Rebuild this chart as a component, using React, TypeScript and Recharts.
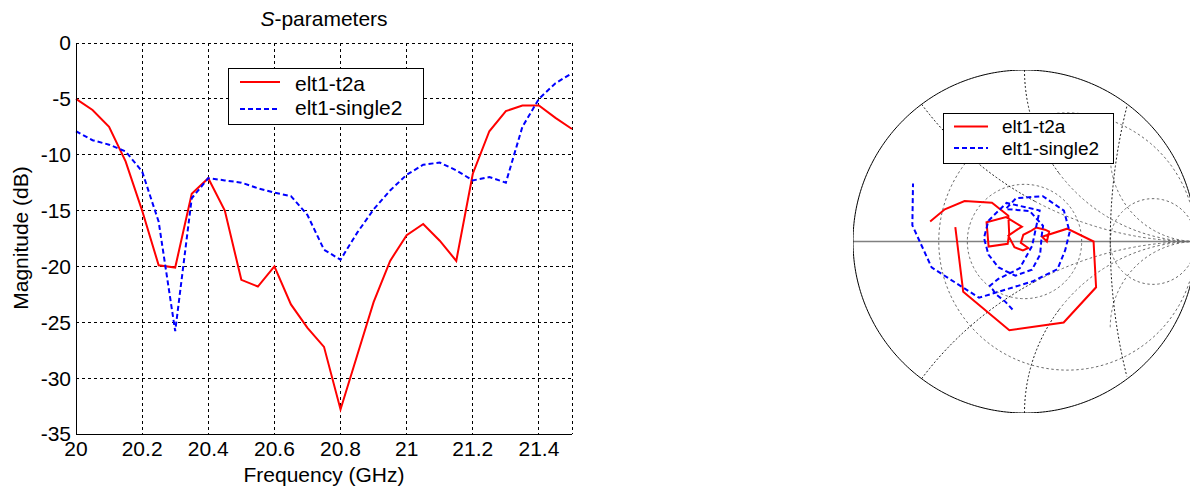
import React from 'react';
import {
  LineChart,
  Line,
  XAxis,
  YAxis,
  CartesianGrid,
  Label,
  Customized,
  ScatterChart,
  Scatter,
  ReferenceLine,
} from 'recharts';

// Sweep points (GHz)
const freqGHz = [
  20.0, 20.05, 20.1, 20.15, 20.2, 20.25, 20.3, 20.35, 20.4, 20.45, 20.5,
  20.55, 20.6, 20.65, 20.7, 20.75, 20.8, 20.85, 20.9, 20.95, 21.0,
  21.05, 21.1, 21.15, 21.2, 21.25, 21.3, 21.35, 21.4, 21.45, 21.5,
];

// |S11| in dB
const t2aDb = [
  -5.0, -6.0, -7.5, -10.6, -15.0, -19.9, -20.1, -13.5, -12.1, -15.0, -21.2,
  -21.8, -20.0, -23.4, -25.5, -27.2, -32.8, -28.0, -23.2, -19.5, -17.2,
  -16.2, -17.7, -19.5, -11.7, -7.9, -6.1, -5.6, -5.6, -6.7, -7.7,
];
const single2Db = [
  -7.9, -8.7, -9.1, -9.7, -11.5, -16.0, -25.8, -13.9, -12.1, -12.3, -12.5,
  -13.0, -13.4, -13.7, -15.4, -18.5, -19.4, -17.0, -14.9, -13.2, -11.8,
  -10.9, -10.7, -11.4, -12.3, -12.0, -12.5, -7.5, -5.0, -3.6, -2.7,
];

// S11 phase in degrees
const t2aPhase = [
  168, 158, 146, 130, 122, 152, 188, 188, 153, 127, 100,
  120, 160, 210, 260, 300, 200, 100, 60, 50, 30,
  22, 0, 15, 16.7, 0, -32.6, -64.2, -99.7, -140.6, 168.2,
];
const single2Phase = [
  -100, -108, -118, -128, -125, -100, -30, 64, 115, 150, 175,
  200, 225, 255, 285, 320, 20, 40, 80, 120, 101,
  68, 38, 12, -12, -40, -78, -129, -164.4, 171.8, 152.5,
];

const freqTicks = [20, 20.2, 20.4, 20.6, 20.8, 21, 21.2, 21.4];
const dbTicks = [0, -5, -10, -15, -20, -25, -30, -35];

const seriesNames = ['elt1-t2a', 'elt1-single2'];

const FONT = '"Liberation Sans", Arial, Helvetica, sans-serif';
const RED = '#ff0000';
const BLUE = '#0000ff';
const DASH = '5 3';

const rows = freqGHz.map((f, i) => ({ f, t2a: t2aDb[i], single2: single2Db[i] }));

// polar (dB, deg) -> reflection coefficient
const toGamma = (db: number[], deg: number[]) =>
  db.map((d, i) => {
    const m = Math.pow(10, d / 20);
    const a = (deg[i] * Math.PI) / 180;
    return { x: m * Math.cos(a), y: m * Math.sin(a) };
  });

const t2aGamma = toGamma(t2aDb, t2aPhase);
const single2Gamma = toGamma(single2Db, single2Phase);

// ---- Smith grid helpers ----
const zToGamma = (r: number, x: number) => {
  const den = (r + 1) * (r + 1) + x * x;
  return { x: (r * r - 1 + x * x) / den, y: (2 * x) / den };
};

const reactanceArc = (x: number, r0: number, r1: number) => {
  const t0 = Math.atan(r0);
  const t1 = Math.min(Math.atan(r1), Math.PI / 2 - 0.001);
  const pts = [];
  for (let i = 0; i <= 80; i++) {
    const r = Math.tan(t0 + ((t1 - t0) * i) / 80);
    pts.push(zToGamma(r, x));
  }
  return pts;
};

const resistanceCircle = (r: number) => {
  const pts = [];
  for (let i = 0; i <= 160; i++) {
    const t = -Math.PI / 2 + 0.002 + ((Math.PI - 0.004) * i) / 160;
    pts.push(zToGamma(r, Math.tan(t)));
  }
  return pts;
};

const circle = (cx: number, cy: number, R: number, n = 240) => {
  const pts = [];
  for (let i = 0; i <= n; i++) {
    const a = (2 * Math.PI * i) / n;
    const p = { x: cx + R * Math.cos(a), y: cy + R * Math.sin(a) };
    if (p.x * p.x + p.y * p.y <= 1.0001) pts.push(p);
  }
  return pts;
};

// arc near Re=0.5, only the part inside the chart, ordered by angle around its centre
const sideArc = () => {
  const pts = [];
  for (let i = 0; i <= 100; i++) {
    const a = Math.PI - 0.26 + (0.52 * i) / 100;
    const p = { x: 3.75 + 3.25 * Math.cos(a), y: 3.25 * Math.sin(a) };
    if (p.x * p.x + p.y * p.y <= 1.0001) pts.push(p);
  }
  return pts;
};

const outerReactances = [0.5, 1, -0.5, -1];
const innerReactances = [0.5, 1, 2, -0.5, -1, -2];

const blackGrid = [...outerReactances.map((x) => reactanceArc(x, 0, 1)), sideArc()];
const grayGrid = [
  ...innerReactances.map((x) => reactanceArc(x, 1, Infinity)),
  resistanceCircle(1 / 3),
  resistanceCircle(3),
  circle(0, 0, 1 / 3),
];
const unitCircle = circle(0, 0, 1, 360);

const NoDot = () => <g />;

const fmtFreq = (v: number) => String(Number(v.toFixed(1)));

const Title = () => (
  <text x={324} y={26} textAnchor="middle" fontFamily={FONT} fontSize={21} fill="#000">
    <tspan fontStyle="italic">S</tspan>-parameters
  </text>
);

const YTitle = () => (
  <text
    x={20}
    y={238}
    transform="rotate(-90 20 238)"
    textAnchor="middle"
    dominantBaseline="central"
    fontFamily={FONT}
    fontSize={21}
    fill="#000"
  >
    Magnitude (dB)
  </text>
);

interface LegendBoxProps {
  left: number;
  top: number;
  width: number;
  height: number;
  fontSize: number;
  lineX: [number, number];
  textX: number;
  rowsY: [number, number];
  baseY: [number, number];
}

const LegendBox: React.FC<LegendBoxProps> = ({ left, top, width, height, fontSize, lineX, textX, rowsY, baseY }) => (
  <div
    style={{
      position: 'absolute',
      left,
      top,
      width,
      height,
      border: '1px solid #000',
      background: '#fff',
      boxSizing: 'border-box',
    }}
  >
    <svg width={width - 2} height={height - 2} style={{ display: 'block' }}>
      <line x1={lineX[0]} x2={lineX[1]} y1={rowsY[0]} y2={rowsY[0]} stroke={RED} strokeWidth={2} />
      <line x1={lineX[0]} x2={lineX[1]} y1={rowsY[1]} y2={rowsY[1]} stroke={BLUE} strokeWidth={2} strokeDasharray={DASH} />
      <text x={textX} y={baseY[0]} fontFamily={FONT} fontSize={fontSize} fill="#000">{seriesNames[0]}</text>
      <text x={textX} y={baseY[1]} fontFamily={FONT} fontSize={fontSize} fill="#000">{seriesNames[1]}</text>
    </svg>
  </div>
);

const App: React.FC = () => {
  return (
    <div
      style={{
        position: 'fixed',
        left: 0,
        top: 0,
        width: 1190,
        height: 488,
        overflow: 'hidden',
        background: '#fff',
        fontFamily: FONT,
      }}
    >
      <style>{`.recharts-cartesian-grid line, .recharts-cartesian-axis-line { shape-rendering: crispEdges; }`}</style>

      {/* magnitude vs frequency */}
      <div style={{ position: 'absolute', left: 0, top: 0 }}>
        <LineChart width={600} height={488} data={rows} margin={{ top: 43, right: 28, bottom: 0, left: 0 }}>
          <CartesianGrid stroke="#000" strokeDasharray="3 3" strokeWidth={1} />
          <XAxis
            dataKey="f"
            type="number"
            domain={[20, 21.5]}
            ticks={freqTicks}
            tickFormatter={fmtFreq}
            height={54}
            tickLine={false}
            tickSize={0}
            tickMargin={7}
            axisLine={{ stroke: '#000', strokeWidth: 1 }}
            tick={{ fill: '#000', fontSize: 21, fontFamily: FONT }}
            interval={0}
          >
            <Label value="Frequency (GHz)" position="insideBottom" offset={6} fill="#000" fontSize={21} fontFamily={FONT} />
          </XAxis>
          <YAxis
            type="number"
            domain={[-35, 0]}
            ticks={dbTicks}
            width={76}
            tickLine={false}
            tickSize={0}
            tickMargin={5}
            axisLine={{ stroke: '#000', strokeWidth: 1 }}
            tick={{ fill: '#000', fontSize: 21, fontFamily: FONT }}
            interval={0}
          >
            <Label content={YTitle} />
          </YAxis>
          <Line
            dataKey="t2a"
            name={seriesNames[0]}
            stroke={RED}
            strokeWidth={2}
            dot={false}
            type="linear"
            isAnimationActive={false}
          />
          <Line
            dataKey="single2"
            name={seriesNames[1]}
            stroke={BLUE}
            strokeWidth={2}
            strokeDasharray={DASH}
            dot={false}
            type="linear"
            isAnimationActive={false}
          />
          <Customized component={Title} />
        </LineChart>
      </div>
      <LegendBox
        left={228}
        top={68}
        width={196}
        height={57}
        fontSize={21}
        lineX={[11, 51]}
        textX={66}
        rowsY={[13, 40]}
        baseY={[22, 46]}
      />

      {/* Smith chart */}
      <div style={{ position: 'absolute', left: 853, top: 70 }}>
        <ScatterChart width={343} height={343} margin={{ top: 0, right: 0, bottom: 0, left: 0 }}>
          <XAxis dataKey="x" type="number" domain={[-1, 1]} hide allowDataOverflow />
          <YAxis dataKey="y" type="number" domain={[-1, 1]} hide allowDataOverflow />
          {grayGrid.map((pts, i) => (
            <Scatter
              key={`g${i}`}
              data={pts}
              fill="none"
              shape={NoDot}
              line={{ stroke: '#6a6a6a', strokeWidth: 1, strokeDasharray: '2.5 2.5' }}
              isAnimationActive={false}
              legendType="none"
            />
          ))}
          {blackGrid.map((pts, i) => (
            <Scatter
              key={`b${i}`}
              data={pts}
              fill="none"
              shape={NoDot}
              line={{ stroke: '#000', strokeWidth: 0.9, strokeDasharray: '2 2' }}
              isAnimationActive={false}
              legendType="none"
            />
          ))}
          <ReferenceLine y={0} stroke="#808080" strokeWidth={1.5} ifOverflow="extendDomain" />
          <Scatter
            data={unitCircle}
            fill="none"
            shape={NoDot}
            line={{ stroke: '#000', strokeWidth: 1 }}
            isAnimationActive={false}
            legendType="none"
          />
          <Scatter
            name={seriesNames[0]}
            data={t2aGamma}
            fill="none"
            shape={NoDot}
            line={{ stroke: RED, strokeWidth: 2 }}
            isAnimationActive={false}
          />
          <Scatter
            name={seriesNames[1]}
            data={single2Gamma}
            fill="none"
            shape={NoDot}
            line={{ stroke: BLUE, strokeWidth: 2, strokeDasharray: DASH }}
            isAnimationActive={false}
          />
        </ScatterChart>
      </div>
      <LegendBox
        left={943}
        top={113}
        width={171}
        height={51}
        fontSize={19}
        lineX={[10, 44]}
        textX={58}
        rowsY={[12.5, 34]}
        baseY={[19, 41]}
      />
    </div>
  );
};

export default App;
